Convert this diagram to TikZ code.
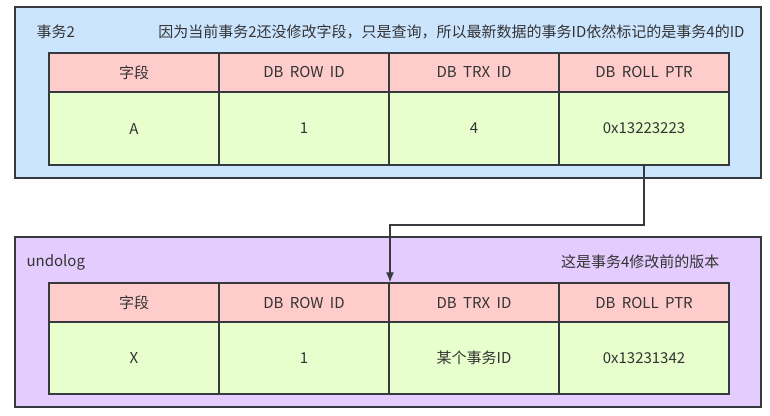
\documentclass[tikz,border=0pt]{standalone}
\usepackage{fontspec}
\setmainfont[WordSpace=1.9]{Noto Sans CJK SC}
\usetikzlibrary{positioning, arrows.meta}
\definecolor{linec}{HTML}{36393D}
\definecolor{textc}{HTML}{333333}
\definecolor{trxc}{HTML}{CCE5FF}
\definecolor{undoc}{HTML}{E5CCFF}
\definecolor{headc}{HTML}{FFCCCC}
\definecolor{valc}{HTML}{E6FFCC}

\begin{document}
\begin{tikzpicture}[x=1pt,y=-1pt,node distance=170pt,on grid,
    >={Latex[length=10pt,width=8pt]},
    font=\fontsize{15}{17}\selectfont, text=textc,
    box/.style={draw=linec,line width=1.3pt,minimum width=746pt,minimum height=171pt,inner sep=0pt},
    cell/.style={draw=linec,line width=1.3pt,minimum width=170pt,inner sep=0pt},
    head/.style={cell,fill=headc,minimum height=39pt},
    val/.style={cell,fill=valc,minimum height=73pt}]
  \useasboundingbox (0,0) rectangle (770,415);
  % outer boxes
  \node[box,fill=trxc] (trx2) at (388,92.5) {};
  \node[box,fill=undoc,minimum height=170pt] (undo) at (388,322) {};
  \node[anchor=west] (trx2_t) at (33,32) {事务2};
  \node[anchor=east] (trx2_n) at (748,32) {因为当前事务2还没修改字段，只是查询，所以最新数据的事务ID依然标记的是事务4的ID};
  \node[anchor=west] (undo_t) at (23,262) {undolog};
  \node[anchor=east] (undo_n) at (723,262) {这是事务4修改前的版本};
  % current row
  \node[head] (th_1) at (134,72.5) {字段};
  \node[head] (th_2) [right=of th_1] {DB ROW ID};
  \node[head] (th_3) [right=of th_2] {DB TRX ID};
  \node[head] (th_4) [right=of th_3] {DB ROLL PTR};
  \node[val] (tv_1) [below=56pt of th_1] {A};
  \node[val] (tv_2) [right=of tv_1] {1};
  \node[val] (tv_3) [right=of tv_2] {4};
  \node[val] (tv_4) [right=of tv_3] {0x13223223};
  % undo row
  \node[head] (uh_1) at (134,302.5) {字段};
  \node[head] (uh_2) [right=of uh_1] {DB ROW ID};
  \node[head] (uh_3) [right=of uh_2] {DB TRX ID};
  \node[head] (uh_4) [right=of uh_3] {DB ROLL PTR};
  \node[val,minimum height=72pt] (uv_1) [below=55.5pt of uh_1] {X};
  \node[val,minimum height=72pt] (uv_2) [right=of uv_1] {1};
  \node[val,minimum height=72pt] (uv_3) [right=of uv_2] {某个事务ID};
  \node[val,minimum height=72pt] (uv_4) [right=of uv_3] {0x13231342};
  % pointer
  \coordinate (hop) at (390,225);
  \draw[->,draw=linec,line width=1.3pt] (tv_4.south) |- (hop) -- (hop |- uh_3.north);
\end{tikzpicture}
\end{document}
